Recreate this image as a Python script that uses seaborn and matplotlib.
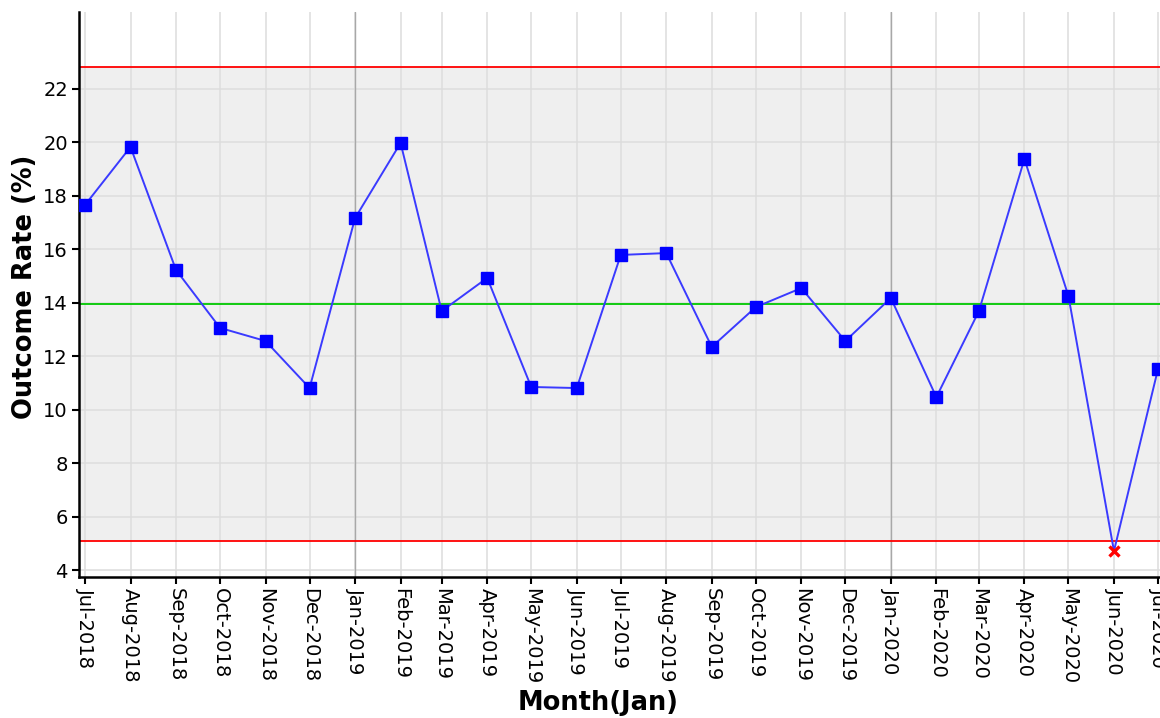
import seaborn as sns
import pandas as pd
import numpy as np
import matplotlib.pyplot as plt

# months on the x axis
month_labels = ['Jul-2018', 'Aug-2018', 'Sep-2018', 'Oct-2018', 'Nov-2018', 'Dec-2018',
                'Jan-2019', 'Feb-2019', 'Mar-2019', 'Apr-2019', 'May-2019', 'Jun-2019',
                'Jul-2019', 'Aug-2019', 'Sep-2019', 'Oct-2019', 'Nov-2019', 'Dec-2019',
                'Jan-2020', 'Feb-2020', 'Mar-2020', 'Apr-2020', 'May-2020', 'Jun-2020',
                'Jul-2020']
# outcome rate (%)
rates = [17.66, 19.83, 15.23, 13.06, 12.57, 10.81,
         17.17, 19.98, 13.69, 14.93, 10.85, 10.81,
         15.79, 15.86, 12.35, 13.84, 14.55, 12.57,
         14.18, 10.47, 13.69, 19.38, 14.25, 4.71,
         11.52]
ucl = 22.82
center = 13.96
lcl = 5.08
y_ticks = [4, 6, 8, 10, 12, 14, 16, 18, 20, 22]
year_starts = ['Jan-2019', 'Jan-2020']

df = pd.DataFrame({'month': pd.to_datetime(month_labels, format='%b-%Y'), 'rate': rates})
df['outside'] = (df['rate'] > ucl) | (df['rate'] < lcl)

sns.set_theme(style='white')
plt.rcParams['font.family'] = ['DejaVu Sans']
plt.rcParams['text.color'] = 'black'
plt.rcParams['xtick.color'] = 'black'
plt.rcParams['ytick.color'] = 'black'

fig = plt.figure(figsize=(11.6, 7.18), dpi=100)
W, H = 1160, 718
ax = fig.add_axes([79 / W, 1 - 577 / H, (1170 - 79) / W, (577 - 12) / H])
ax.set_facecolor('white')

# control band shading
ax.axhspan(lcl, ucl, color='#efefef', zorder=0.1, lw=0)

# grid
for d in df['month']:
    ax.axvline(d, color='#dddddd', lw=1.1, zorder=0.3)
for y in y_ticks:
    ax.axhline(y, color='#dddddd', lw=1.1, zorder=0.3)
for ys in year_starts:
    ax.axvline(pd.to_datetime(ys, format='%b-%Y'), color='#a8a8a8', lw=1.0, zorder=0.4)

# control lines
ax.axhline(ucl, color='#ff0000', lw=1.3, zorder=2)
ax.axhline(lcl, color='#ff0000', lw=1.3, zorder=2)
ax.axhline(center, color='#00c800', lw=1.3, zorder=2)

sns.lineplot(data=df, x='month', y='rate', color='#3a3aff', lw=1.4, ax=ax, zorder=3)
ax.plot(df.loc[~df['outside'], 'month'], df.loc[~df['outside'], 'rate'], 's',
        color='#0000ff', markersize=8.5, zorder=4)
ax.plot(df.loc[df['outside'], 'month'], df.loc[df['outside'], 'rate'], 'x',
        color='#ff0000', markersize=7.5, mew=2.4, zorder=4)

# axis limits so Jul-2018 sits just right of the spine and Jul-2020 at the edge
day_per_px = (df['month'].iloc[-1] - df['month'].iloc[0]).days / (1158 - 85)
ax.set_xlim(df['month'].iloc[0] - pd.Timedelta(days=6 * day_per_px),
            df['month'].iloc[-1] + pd.Timedelta(days=12 * day_per_px))
ax.set_ylim(3.74, 24.88)

ax.set_xticks(df['month'])
ax.set_xticklabels(month_labels, rotation=270, fontsize=14)
ax.set_yticks(y_ticks)
ax.set_yticklabels([str(v) for v in y_ticks], fontsize=14)
ax.tick_params(axis='both', direction='out', length=5, width=1.5, color='black',
               labelcolor='black', bottom=True, left=True, pad=3)

for s in ['top', 'right']:
    ax.spines[s].set_visible(False)
for s in ['left', 'bottom']:
    ax.spines[s].set_color('black')
    ax.spines[s].set_linewidth(1.8)

ax.set_xlabel('')
ax.set_ylabel('')
fig.text(598 / W, 1 - 703 / H, 'Month(Jan)', fontsize=18.5, fontweight='bold',
         color='black', ha='center', va='center')
fig.text(25 / W, 1 - 287 / H, 'Outcome Rate (%)', fontsize=18.5, fontweight='bold',
         color='black', ha='center', va='center', rotation=90)

fig.savefig('out.png', dpi=100)
